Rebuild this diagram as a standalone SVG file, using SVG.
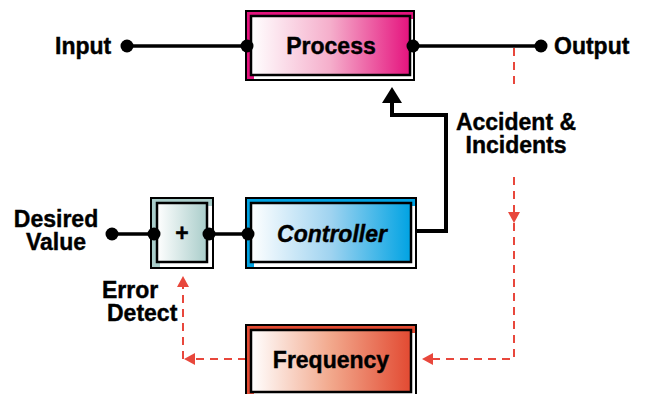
<svg xmlns="http://www.w3.org/2000/svg" width="645" height="394" viewBox="0 0 645 394">
<defs>
<linearGradient id="gP" x1="0" x2="1" y1="0" y2="0"><stop offset="0" stop-color="#ffffff"/><stop offset="0.5" stop-color="#f5aecb"/><stop offset="1" stop-color="#e5137e"/></linearGradient>
<linearGradient id="gC" x1="0" x2="1" y1="0" y2="0"><stop offset="0" stop-color="#ffffff"/><stop offset="0.5" stop-color="#9fd3f0"/><stop offset="1" stop-color="#00a3e3"/></linearGradient>
<linearGradient id="gE" x1="0" x2="1" y1="0" y2="0"><stop offset="0" stop-color="#ffffff"/><stop offset="1" stop-color="#a9cdca"/></linearGradient>
<linearGradient id="gF" x1="0" x2="1" y1="0" y2="0"><stop offset="0" stop-color="#ffffff"/><stop offset="0.5" stop-color="#f2a88c"/><stop offset="1" stop-color="#e24a32"/></linearGradient>
</defs>
<style>
text{font-family:"Liberation Sans",Arial,sans-serif;font-weight:bold;fill:#000;font-size:23px;stroke:#000;stroke-width:0.4}
.outer{fill:none;stroke:#000;stroke-width:2}
.inner{stroke:#000;stroke-width:2.5}
.wl{fill:#fff}
.ln{stroke:#000;stroke-width:3.5;fill:none}
.dash{stroke:#e8473c;stroke-width:2;stroke-dasharray:8 6;fill:none}
.dot{fill:#000}
.ra{fill:#e8473c}
</style>
<g id="connectors">
<line class="ln" x1="127" y1="46" x2="247" y2="46"/>
<line class="ln" x1="413" y1="46" x2="541" y2="46"/>
<line class="ln" x1="112" y1="234" x2="154" y2="234"/>
<line class="ln" x1="209" y1="234" x2="248" y2="234"/>
<polyline fill="none" stroke="#000" stroke-width="4" points="414,231 446,231 446,115 392,115 392,101"/>
<polygon fill="#000" points="392,87 382,103 402,103"/>
<polyline class="dash" points="514,48 514,90"/>
<polyline class="dash" points="514,177 514,212"/>
<polygon class="ra" points="508,212 520,212 514,223"/>
<polyline class="dash" points="514,223 514,359 433,359"/>
<polygon class="ra" points="422,359 433,353 433,365"/>
<polyline class="dash" points="246,359 195,359"/>
<polygon class="ra" points="184,359 195,353 195,365"/>
<polyline class="dash" points="183,359 183,286"/>
<polygon class="ra" points="183,276 177,287 189,287"/>
</g>
<g id="process">
<rect x="246" y="11" width="168" height="69" fill="#e5137e"/>
<rect class="wl" x="254" y="19" width="160" height="61"/>
<rect class="inner" x="251" y="16" width="159" height="59" fill="url(#gP)"/>
<rect class="outer" x="246" y="11" width="168" height="69"/>
<text x="331" y="54" text-anchor="middle">Process</text>
</g>
<g id="controller">
<rect x="246" y="198" width="170" height="70" fill="#00a3e3"/>
<rect class="wl" x="254" y="206" width="162" height="62"/>
<rect class="inner" x="251" y="203" width="160" height="59" fill="url(#gC)"/>
<rect class="outer" x="246" y="198" width="170" height="70"/>
<text x="332" y="242" text-anchor="middle" font-style="italic">Controller</text>
</g>
<g id="error">
<rect x="151" y="198" width="62" height="70" fill="#a9cdca"/>
<rect class="wl" x="160" y="206" width="53" height="62"/>
<rect class="inner" x="157" y="203" width="50" height="59" fill="url(#gE)"/>
<rect class="outer" x="151" y="198" width="62" height="70"/>
<text x="182" y="241" text-anchor="middle">+</text>
</g>
<g id="frequency">
<rect x="246" y="325" width="170" height="72" fill="#e24a32"/>
<rect class="wl" x="254" y="333" width="162" height="64"/>
<rect class="inner" x="251" y="330" width="160" height="62" fill="url(#gF)"/>
<rect class="outer" x="246" y="325" width="170" height="72"/>
<text x="331" y="368" text-anchor="middle">Frequency</text>
</g>
<g id="dots">
<circle class="dot" cx="127" cy="46" r="6.5"/>
<circle class="dot" cx="247" cy="46" r="6.5"/>
<circle class="dot" cx="413" cy="46" r="6.5"/>
<circle class="dot" cx="541" cy="46" r="6.5"/>
<circle class="dot" cx="112" cy="234" r="6.5"/>
<circle class="dot" cx="154" cy="234" r="6.5"/>
<circle class="dot" cx="209" cy="234" r="6.5"/>
<circle class="dot" cx="248" cy="234" r="6.5"/>
</g>
<g id="labels">
<text x="55" y="54">Input</text>
<text x="554" y="54">Output</text>
<text x="56" y="227" text-anchor="middle">Desired</text>
<text x="56" y="250" text-anchor="middle">Value</text>
<text x="102" y="298">Error</text>
<text x="107" y="321">Detect</text>
<text x="516" y="130" text-anchor="middle">Accident &amp;</text>
<text x="516" y="153" text-anchor="middle">Incidents</text>
</g>
</svg>
